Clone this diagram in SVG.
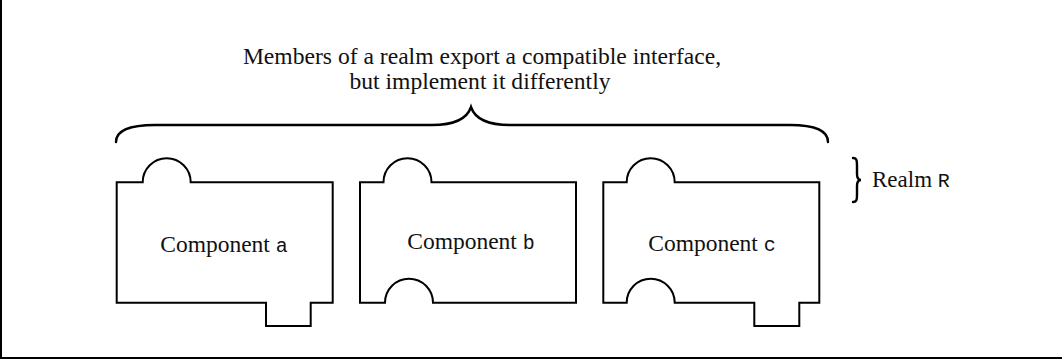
<svg xmlns="http://www.w3.org/2000/svg" width="1062" height="360" viewBox="0 0 1062 360">
  <style>
    .frame { stroke: #000; stroke-width: 2; fill: none; }
    .piece { stroke: #000; stroke-width: 2; fill: #fff; stroke-linejoin: miter; }
    .brace { stroke: #000; stroke-width: 2.4; fill: none; stroke-linecap: round; }
    .serif { font-family: "Liberation Serif", "Times New Roman", serif; fill: #111; }
    .mono { font-family: "Liberation Mono", "Courier New", monospace; font-size: 20px; }
  </style>
  <rect width="1062" height="360" fill="#fff"/>
  <!-- partial frame: left and bottom edges -->
  <path class="frame" d="M1,0 V358 H1062"/>

  <!-- caption -->
  <g id="caption" class="serif" font-size="23.6" text-anchor="middle">
    <text x="482" y="64">Members of a realm export a compatible interface,</text>
    <text x="480" y="89">but implement it differently</text>
  </g>

  <!-- braces -->
  <g id="connectors">
    <path id="members-brace" class="brace" d="M116,142 C116,131 128,125 155,125 H432 C454,125 467,119 471,107 C475,119 488,125 510,125 H790 C816,125 828,131 828,142"/>
    <path id="realm-brace" class="brace" stroke-width="2" d="M853,158 C857,158 857,161 857,166 V174 C857,178 858,180 861,180 C858,180 857,182 857,186 V194 C857,199 857,202 853,202"/>
  </g>

  <!-- component a: export bump on top, import tab below -->
  <g id="component-a">
    <path class="piece" d="M116.7,182.3 H142.7 A24,24 0 0 1 190.7,182.3 H332.7 V302.7 H310.7 V326 H266 V302.7 H116.7 Z"/>
    <text class="serif" x="224" y="252" font-size="23.5" text-anchor="middle">Component <tspan class="mono">a</tspan></text>
  </g>

  <!-- component b: export bump on top, socket below -->
  <g id="component-b">
    <path class="piece" d="M360,182.3 H383.5 A24,24 0 0 1 431.5,182.3 H576 V302.7 H433 A24,24 0 0 0 385,302.7 H360 Z"/>
    <text class="serif" x="471" y="249" font-size="23.5" text-anchor="middle">Component <tspan class="mono">b</tspan></text>
  </g>

  <!-- component c: export bump on top, socket and tab below -->
  <g id="component-c">
    <path class="piece" d="M603.3,182.3 H626.7 A24,24 0 0 1 674.7,182.3 H819.3 V302.7 H799.3 V326 H754.3 V302.7 H674.7 A24,24 0 0 0 626.7,302.7 H603.3 Z"/>
    <text class="serif" x="712" y="251" font-size="23.5" text-anchor="middle">Component <tspan class="mono">c</tspan></text>
  </g>

  <!-- realm label -->
  <g id="realm-label">
    <text class="serif" x="872" y="187" font-size="23">Realm <tspan class="mono">R</tspan></text>
  </g>
</svg>
